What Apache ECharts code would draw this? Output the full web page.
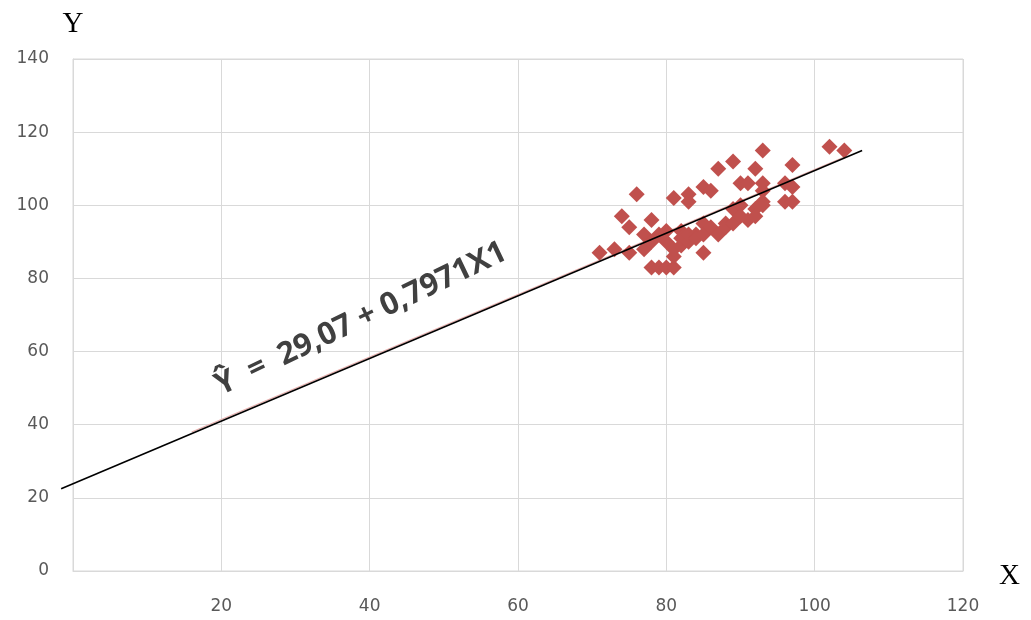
<!DOCTYPE html>
<html>
<head>
<meta charset="utf-8">
<script src="https://cdn.jsdelivr.net/npm/echarts@6/dist/echarts.min.js"></script>
<style>
  html, body { margin: 0; padding: 0; background: #ffffff; }
  #chart { width: 1031px; height: 620px; }
</style>
</head>
<body>
<div id="chart"></div>
<script>
// Observations: X1 (horizontal) and Y (vertical)
const xValues = [71, 73, 74, 75, 75, 76, 77, 77, 78, 78, 78, 79, 79, 80, 80, 80, 81, 81, 81, 81,
                 82, 82, 82, 83, 83, 83, 83, 84, 84, 85, 85, 85, 85, 86, 86, 87, 87, 88, 88, 89,
                 89, 89, 90, 90, 90, 91, 91, 92, 92, 92, 93, 93, 93, 93, 93, 96, 96, 97, 97, 97,
                 102, 104];
const yValues = [87, 88, 97, 94, 87, 103, 92, 88, 96, 90, 83, 83, 92, 83, 93, 90, 83, 102, 86, 88,
                 93, 89, 91, 103, 101, 90, 92, 92, 91, 105, 95, 92, 87, 104, 94, 110, 92, 95, 94, 112,
                 99, 95, 106, 100, 97, 106, 96, 110, 99, 97, 115, 106, 104, 101, 100, 106, 101, 111, 105, 101,
                 116, 115];

// Fitted regression line, drawn between its two end points
const fitLineX = [-1.6, 106.4];
const fitLineY = [22.5, 115.0];
// Coloured trendline lying under the fitted line
const trendX = [16, 104];
const trendY = [38.0, 113.2];

const equationText = 'Ŷ  =  29,07 + 0,7971X1';

const xTicks = { min: 0, max: 120, interval: 20 };
const yTicks = { min: 0, max: 140, interval: 20 };

const points = xValues.map((x, i) => [x, yValues[i]]);
const fitLine = fitLineX.map((x, i) => [x, fitLineY[i]]);
const trendLine = trendX.map((x, i) => [x, trendY[i]]);

const chart = echarts.init(document.getElementById('chart'), null, { renderer: 'canvas' });

const labelFont = {
  color: '#595959',
  fontFamily: 'DejaVu Sans',
  fontSize: 17
};

chart.setOption({
  animation: false,
  backgroundColor: '#ffffff',
  grid: {
    left: 73, right: 68, top: 59, bottom: 49,
    show: true, borderColor: '#d9d9d9', borderWidth: 1
  },
  xAxis: {
    type: 'value',
    min: xTicks.min, max: xTicks.max, interval: xTicks.interval,
    axisLine: { show: true, lineStyle: { color: '#d9d9d9', width: 1 } },
    axisTick: { show: false },
    splitLine: { show: true, lineStyle: { color: '#d9d9d9', width: 1 } },
    axisLabel: Object.assign({
      margin: 27,
      formatter: v => (v === 0 ? '' : String(v))
    }, labelFont)
  },
  yAxis: {
    type: 'value',
    min: yTicks.min, max: yTicks.max, interval: yTicks.interval,
    name: 'Y',
    nameLocation: 'end',
    nameGap: 20,
    nameTextStyle: {
      fontFamily: 'Liberation Serif', fontSize: 29, color: '#000000'
    },
    axisLine: { show: true, lineStyle: { color: '#d9d9d9', width: 1 } },
    axisTick: { show: false },
    splitLine: { show: true, lineStyle: { color: '#d9d9d9', width: 1 } },
    axisLabel: Object.assign({ margin: 24 }, labelFont)
  },
  series: [
    {
      type: 'line',
      data: trendLine,
      symbol: 'none',
      clip: false,
      silent: true,
      lineStyle: { color: '#e8aeac', width: 1.2 },
      z: 3
    },
    {
      type: 'scatter',
      data: points,
      symbol: 'diamond',
      symbolSize: 16,
      itemStyle: { color: '#c0504d', opacity: 1 },
      z: 4
    }
  ]
});

// The fitted line runs past the left edge of the plot, so it is drawn as a
// polyline whose ends are converted through the chart's own axes.
const fitPixels = fitLine.map(p => chart.convertToPixel({ gridIndex: 0 }, p));
chart.setOption({
  graphic: [
    {
      type: 'polyline',
      z: 50,
      silent: true,
      shape: { points: fitPixels },
      style: { stroke: '#000000', lineWidth: 1.6, fill: null }
    },
    {
      type: 'text',
      x: 361,
      y: 319,
      rotation: 0.445,
      z: 60,
      style: {
        text: equationText,
        fontFamily: 'Open Sans',
        fontWeight: 'bold',
        fontSize: 31,
        fill: '#404040',
        textAlign: 'center',
        textVerticalAlign: 'middle'
      }
    },
    {
      // horizontal axis title, just right of the plot's lower corner
      type: 'text',
      left: 999,
      top: 562,
      z: 60,
      style: {
        text: 'X',
        fontFamily: 'Liberation Serif',
        fontSize: 29,
        fill: '#000000'
      }
    }
  ]
});
</script>
</body>
</html>
